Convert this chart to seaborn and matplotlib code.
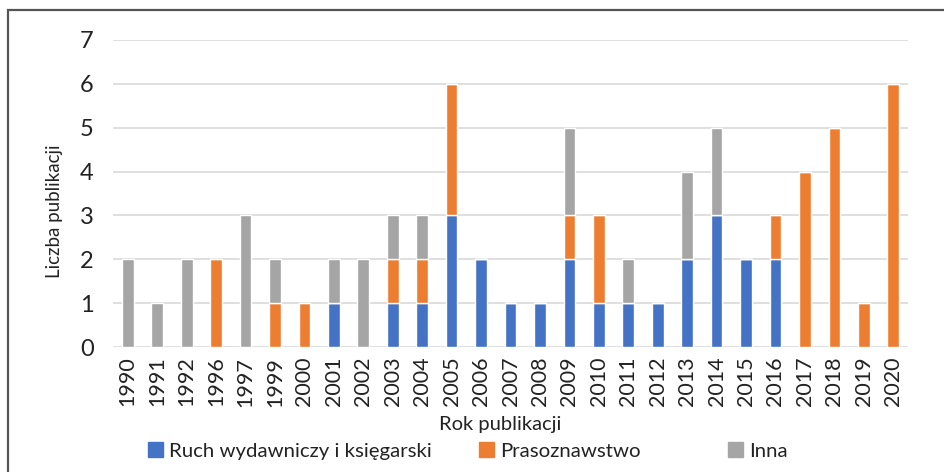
import numpy as np
import pandas as pd
import matplotlib
matplotlib.use("Agg")
import matplotlib.pyplot as plt
import matplotlib.patches as mpatches
import seaborn as sns

# ===============================
# Data
# ===============================
years = ["1990", "1991", "1992", "1996", "1997", "1999", "2000", "2001", "2002",
         "2003", "2004", "2005", "2006", "2007", "2008", "2009", "2010", "2011",
         "2012", "2013", "2014", "2015", "2016", "2017", "2018", "2019", "2020"]
ruch = [0, 0, 0, 0, 0, 0, 0, 1, 0, 1, 1, 3, 2, 1, 1, 2, 1, 1, 1, 2, 3, 2, 2, 0, 0, 0, 0]
prasa = [0, 0, 0, 2, 0, 1, 1, 0, 0, 1, 1, 3, 0, 0, 0, 1, 2, 0, 0, 0, 0, 0, 1, 4, 5, 1, 6]
inna = [2, 1, 2, 0, 3, 1, 0, 1, 2, 1, 1, 0, 0, 0, 0, 2, 0, 1, 0, 2, 2, 0, 0, 0, 0, 0, 0]

series_names = ["Ruch wydawniczy i księgarski", "Prasoznawstwo", "Inna"]
colors = ["#4472C4", "#ED7D31", "#A5A5A5"]

df = pd.DataFrame({"Rok": years, series_names[0]: ruch,
                   series_names[1]: prasa, series_names[2]: inna})

# ===============================
# Plot
# ===============================
sns.set_style("white")
plt.rcParams['font.family'] = ['Lato', 'DejaVu Sans']

fig = plt.figure(figsize=(9.44, 4.72), dpi=100)
ax = fig.add_axes([113/944, 1 - 347/472, 795/944, 307/472])

# stacked bars: each series sits on top of the previous ones
bottom = np.zeros(len(years))
for name, col in zip(series_names, colors):
    sns.barplot(data=df, x="Rok", y=name, color=col, width=0.4,
                bottom=bottom, saturation=1, ax=ax, zorder=3)
    bottom = bottom + df[name].values

ax.set_ylim(0, 7)
ax.set_xlim(-0.5, len(years) - 0.5)
ax.set_yticks(range(0, 8))
ax.yaxis.grid(True, color="#D9D9D9", linewidth=1.2, zorder=0)
ax.xaxis.grid(False)
for s in ax.spines.values():
    s.set_visible(False)
ax.tick_params(axis="y", length=0, pad=14, labelsize=17, labelcolor="#222222")
ax.tick_params(axis="x", length=0, pad=7, labelsize=15.5, labelcolor="#222222",
               rotation=90)

ax.set_xlabel("Rok publikacji", fontsize=14.5, color="#222222")
ax.set_ylabel("Liczba publikacji", fontsize=13.5, color="#222222")
ax.xaxis.set_label_coords(0.487, -0.225)
ax.yaxis.set_label_coords(-0.063, 0.443)

# legend, one entry per slot like the original
legend_x = [148/944, 479/944, 728/944]
for name, col, lx in zip(series_names, colors, legend_x):
    fig.legend(handles=[mpatches.Patch(color=col, label=name)],
               loc="center left", bbox_to_anchor=(lx, 1 - 451/472),
               frameon=False, fontsize=14.7, handlelength=0.75, handleheight=0.75,
               handletextpad=0.3, borderaxespad=0, borderpad=0,
               labelcolor="#222222")

# frame around the chart (only top and left edges visible)
frame = mpatches.Rectangle((8/944, -0.2), 1.2, 1 - 10/472 + 0.2,
                           transform=fig.transFigure, fill=False,
                           edgecolor="#555555", linewidth=1.6, clip_on=False)
fig.patches.append(frame)

fig.savefig("out.png", dpi=100)
